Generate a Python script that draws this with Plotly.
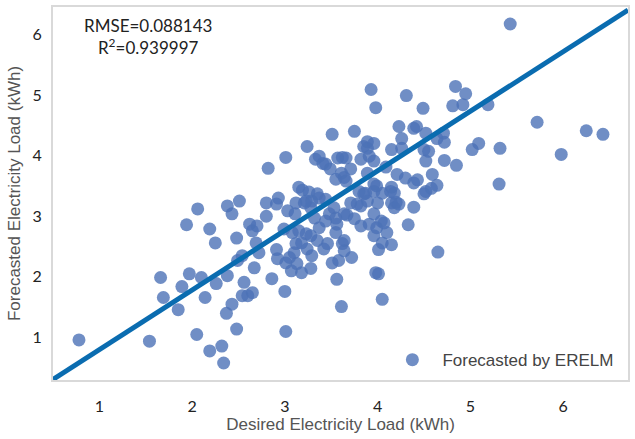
import plotly.graph_objects as go

# Desired (actual) load vs. load forecasted by the ERELM model, in kWh
desired_kwh = [
    0.78, 1.54, 1.66, 1.69, 1.85, 1.89, 1.94, 1.97, 2.05, 2.06,
    2.10, 2.14, 2.19, 2.19, 2.25, 2.26, 2.32, 2.34, 2.37, 2.38,
    2.38, 2.43, 2.43, 2.48, 2.48, 2.49, 2.51, 2.54, 2.54, 2.56,
    2.60, 2.62, 2.65, 2.65, 2.67, 2.69, 2.70, 2.72, 2.80, 2.80,
    2.82, 2.86, 2.91, 2.91, 2.92, 2.93, 2.99, 3.00, 3.01, 3.01,
    3.01, 3.03, 3.05, 3.07, 3.08, 3.11, 3.10, 3.12, 3.12, 3.13,
    3.15, 3.15, 3.18, 3.18, 3.19, 3.21, 3.23, 3.23, 3.24, 3.24,
    3.26, 3.28, 3.28, 3.28, 3.29, 3.29, 3.32, 3.33, 3.35, 3.35,
    3.37, 3.37, 3.37, 3.41, 3.42, 3.44, 3.44, 3.44, 3.46, 3.48,
    3.49, 3.51, 3.51, 3.53, 3.55, 3.55, 3.55, 3.56, 3.56, 3.57,
    3.58, 3.61, 3.61, 3.62, 3.62, 3.64, 3.64, 3.64, 3.64, 3.66,
    3.66, 3.67, 3.71, 3.71, 3.72, 3.75, 3.75, 3.78, 3.80, 3.82,
    3.82, 3.82, 3.85, 3.85, 3.89, 3.89, 3.87, 3.89, 3.89, 3.91,
    3.91, 3.93, 3.96, 3.96, 3.96, 3.96, 3.96, 3.96, 3.98, 3.99,
    4.00, 3.99, 3.98, 4.01, 4.01, 4.04, 4.05, 4.05, 4.05, 4.07,
    4.09, 4.10, 4.14, 4.15, 4.15, 4.15, 4.15, 4.18, 4.18, 4.20,
    4.21, 4.23, 4.23, 4.26, 4.26, 4.30, 4.31, 4.33, 4.39, 4.42,
    4.39, 4.39, 4.43, 4.49, 4.50, 4.50, 4.52, 4.52, 4.52, 4.55,
    4.58, 4.59, 4.64, 4.64, 4.65, 4.71, 4.72, 4.72, 4.81, 4.84,
    4.85, 4.92, 4.95, 5.02, 5.09, 5.19, 5.32, 5.31, 5.43, 5.72,
    5.98, 6.25, 6.43,
]
forecast_kwh = [
    0.96, 0.94, 1.99, 1.66, 1.46, 1.84, 2.86, 2.05, 1.05, 3.12,
    1.99, 1.66, 2.79, 0.78, 2.56, 1.89, 0.86, 0.58, 1.40, 3.17,
    2.02, 3.04, 1.55, 2.64, 1.14, 2.27, 3.25, 2.35, 1.69, 1.91,
    1.69, 2.87, 1.74, 2.76, 2.15, 2.56, 2.84, 2.40, 3.22, 3.00,
    3.79, 1.97, 3.20, 2.45, 2.30, 3.30, 2.79, 1.76, 3.97, 2.23,
    1.10, 3.09, 2.32, 2.10, 2.73, 3.04, 2.40, 3.22, 2.55, 2.22,
    3.48, 2.76, 2.56, 2.07, 3.43, 3.22, 3.25, 2.71, 4.15, 2.46,
    3.40, 3.14, 2.68, 2.14, 3.25, 2.35, 2.97, 3.94, 3.37, 2.60,
    3.99, 3.30, 2.81, 3.87, 2.46, 3.86, 3.28, 2.92, 2.55, 3.04,
    3.78, 4.35, 2.23, 3.14, 3.61, 2.97, 2.73, 2.87, 1.96, 3.96,
    2.27, 3.71, 1.51, 3.97, 2.55, 3.64, 3.04, 2.60, 2.43, 3.96,
    3.58, 3.02, 3.78, 3.22, 2.32, 4.40, 2.96, 3.20, 3.41, 3.94,
    3.17, 2.84, 4.15, 3.37, 4.23, 3.71, 3.38, 4.12, 3.25, 3.99,
    2.87, 5.09, 3.91, 4.20, 3.53, 3.41, 3.04, 2.68, 4.79, 3.50,
    3.22, 2.81, 2.07, 2.05, 2.45, 2.92, 3.38, 2.56, 1.63, 2.89,
    3.81, 2.73, 3.41, 4.10, 3.48, 3.22, 2.53, 3.38, 3.14, 3.23,
    3.69, 4.48, 3.20, 4.28, 4.12, 3.63, 4.99, 2.86, 4.45, 4.48,
    3.55, 3.15, 3.60, 4.78, 4.10, 3.37, 4.37, 3.91, 3.41, 4.07,
    3.46, 3.69, 4.28, 3.51, 2.41, 4.37, 4.22, 3.92, 4.82, 5.14,
    3.84, 4.84, 5.02, 4.10, 4.20, 4.84, 4.12, 3.53, 6.17, 4.55,
    4.02, 4.41, 4.35,
]

# Reference line endpoints (kWh)
line_x = [0.5, 6.7]
line_y = [0.31, 6.4]

x_ticks = [1, 2, 3, 4, 5, 6]
y_ticks = [1, 2, 3, 4, 5, 6]

rmse_text = "RMSE=0.088143"
r2_text = "R<sup>2</sup>=0.939997"

fig = go.Figure()

fig.add_trace(go.Scatter(
    x=desired_kwh, y=forecast_kwh,
    mode="markers",
    name="Forecasted by ERELM",
    marker=dict(size=13, color="rgba(76,114,183,0.8)", line=dict(width=0)),
))

fig.add_trace(go.Scatter(
    x=line_x, y=line_y,
    mode="lines",
    line=dict(color="#0a6cb0", width=5),
    showlegend=False,
    hoverinfo="skip",
))

tick_font = dict(family="Lato, 'Open Sans', sans-serif", size=16, color="#222")
title_font = dict(family="'Liberation Sans', Arial, sans-serif", size=17, color="#555")

fig.update_layout(
    width=635, height=439,
    margin=dict(l=53, r=5, t=5, b=59),
    paper_bgcolor="white",
    plot_bgcolor="white",
    showlegend=True,
    legend=dict(
        x=0.985, y=0.005, xanchor="right", yanchor="bottom",
        bgcolor="rgba(0,0,0,0)",
        font=dict(family="'Liberation Sans', Arial, sans-serif", size=17, color="#444"),
        itemwidth=50,
    ),
    xaxis=dict(
        range=[0.5, 6.7],
        tickvals=x_ticks,
        ticks="",
        showgrid=False,
        zeroline=False,
        showline=True, mirror=True, linecolor="#d9d9d9", linewidth=2,
        tickfont=tick_font,
        ticklabelstandoff=11,
        title=dict(text="Desired Electricity Load (kWh)", font=title_font, standoff=4),
    ),
    yaxis=dict(
        range=[0.3, 6.45],
        tickvals=y_ticks,
        ticks="",
        showgrid=False,
        zeroline=False,
        showline=True, mirror=True, linecolor="#d9d9d9", linewidth=2,
        tickfont=tick_font,
        ticklabelstandoff=6,
        title=dict(text="Forecasted Electricity Load (kWh)", font=title_font, standoff=8),
    ),
    annotations=[
        dict(
            text=rmse_text + "<br>" + r2_text,
            xref="paper", yref="paper", x=0.165, y=0.985,
            xanchor="center", yanchor="top",
            showarrow=False, align="center",
            font=dict(family="Lato, 'Open Sans', sans-serif", size=17, color="#222"),
        )
    ],
)

fig.write_html("out.html")
